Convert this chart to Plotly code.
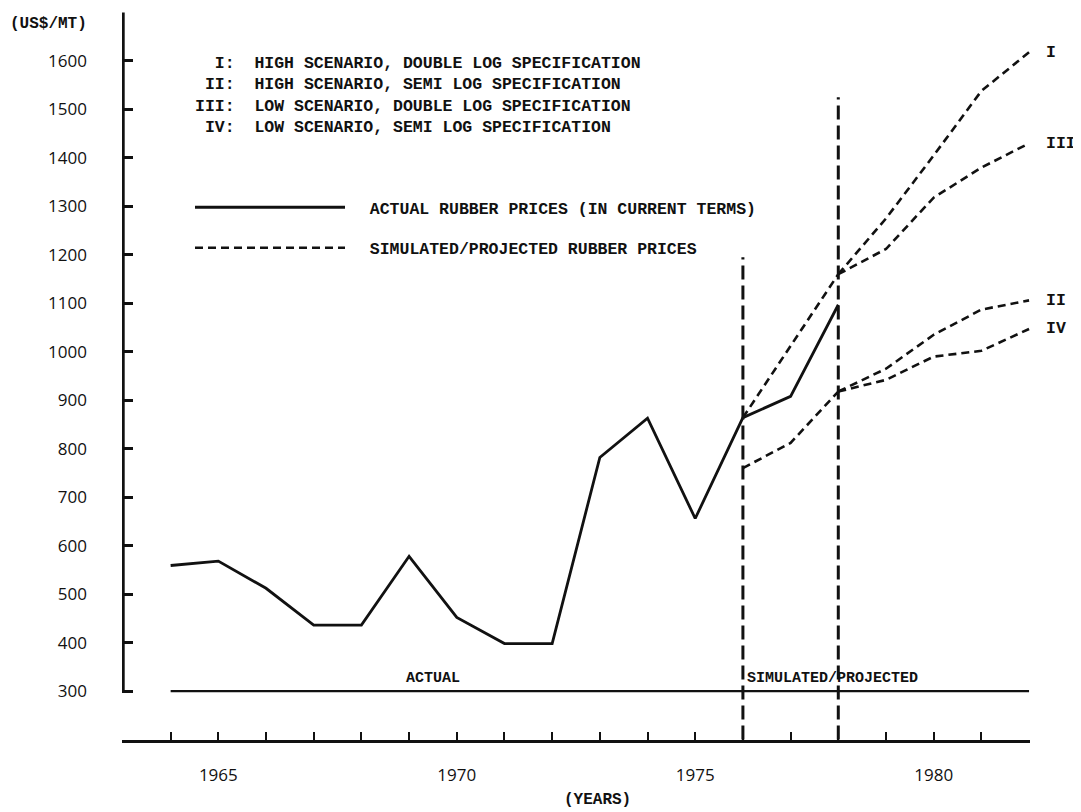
import plotly.graph_objects as go

# ---------------- data ----------------
actual_years = [1964, 1965, 1966, 1967, 1968, 1969, 1970, 1971, 1972, 1973, 1974, 1975, 1976, 1977, 1978]
actual_prices = [559, 568, 512, 436, 436, 578, 452, 398, 398, 782, 863, 656, 864, 908, 1097]

sim_years = [1976, 1977, 1978]
sim_high = [864, 1012, 1160]     # simulated, double log (I / III)
sim_semi = [760, 812, 918]       # simulated, semi log (II / IV)

proj_years = [1978, 1979, 1980, 1981, 1982]
proj_I = [1160, 1275, 1405, 1538, 1618]
proj_III = [1160, 1212, 1318, 1380, 1430]
proj_II = [918, 965, 1035, 1087, 1106]
proj_IV = [918, 942, 990, 1002, 1047]

boundary_years = [1976, 1978]
boundary_tops = [1195, 1525]
boundary_base = 200

base_level = 300
base_span = [1964, 1982]

y_ticks = [300, 400, 500, 600, 700, 800, 900, 1000, 1100, 1200, 1300, 1400, 1500, 1600, 1700]
y_ticktext = [str(v) for v in y_ticks[:-1]] + [""]
x_ticks = list(range(1963, 1983))
x_ticktext = [str(v) if v in (1965, 1970, 1975, 1980) else "" for v in x_ticks]

scenario_lines = [
    "\u00a0\u00a0I:\u00a0\u00a0HIGH SCENARIO, DOUBLE LOG SPECIFICATION",
    "\u00a0II:\u00a0\u00a0HIGH SCENARIO, SEMI LOG SPECIFICATION",
    "III:\u00a0\u00a0LOW SCENARIO, DOUBLE LOG SPECIFICATION",
    "\u00a0IV:\u00a0\u00a0LOW SCENARIO, SEMI LOG SPECIFICATION",
]
legend_names = [
    "\u00a0\u00a0ACTUAL RUBBER PRICES (IN CURRENT TERMS)",
    "\u00a0\u00a0SIMULATED/PROJECTED RUBBER PRICES",
]

MONO = "Liberation Mono"
SANS = "Open Sans"
INK = "#111111"

# page offset (browser body margin) compensation
OFF = 8
W, H = 1081 - OFF, 812 - OFF
PL, PR, PT, PB = 122, 1030, 12, 740   # plot area in page pixels


def px(xp):
    return (xp - PL) / (PR - PL)


def py(yp):
    return 1 - (yp - PT) / (PB - PT)


fig = go.Figure()

fig.add_trace(go.Scatter(
    x=actual_years, y=actual_prices, mode="lines",
    line=dict(color=INK, width=2.8),
    name=legend_names[0], legendgroup="a",
))

dash_proj = "8px,5px"
fig.add_trace(go.Scatter(
    x=sim_years, y=sim_high, mode="lines",
    line=dict(color=INK, width=2.6, dash=dash_proj),
    name=legend_names[1], legendgroup="b",
))
fig.add_trace(go.Scatter(
    x=sim_years, y=sim_semi, mode="lines",
    line=dict(color=INK, width=2.6, dash=dash_proj), showlegend=False,
))
for series in (proj_I, proj_III, proj_II, proj_IV):
    fig.add_trace(go.Scatter(
        x=proj_years, y=series, mode="lines",
        line=dict(color=INK, width=2.6, dash=dash_proj), showlegend=False,
    ))

for bx, top in zip(boundary_years, boundary_tops):
    fig.add_trace(go.Scatter(
        x=[bx, bx], y=[boundary_base, top], mode="lines",
        line=dict(color=INK, width=3, dash="14px,6px"), showlegend=False,
    ))

fig.add_trace(go.Scatter(
    x=base_span, y=[base_level, base_level], mode="lines",
    line=dict(color=INK, width=2.2), showlegend=False,
))

fig.add_shape(type="line", xref="x", yref="y", x0=1963, x1=1963,
              y0=y_ticks[0], y1=y_ticks[-1], line=dict(color=INK, width=3.5))

for lab, series in (("I", proj_I), ("III", proj_III), ("II", proj_II), ("IV", proj_IV)):
    fig.add_annotation(x=proj_years[-1], y=series[-1], text=lab, showarrow=False,
                       xanchor="left", yanchor="middle", xshift=15,
                       font=dict(family=MONO, size=16.5, color=INK, weight="bold"))

fig.add_annotation(x=1969.5, y=base_level, text="ACTUAL", showarrow=False,
                   xanchor="center", yanchor="bottom", yshift=2,
                   font=dict(family=MONO, size=15, color=INK, weight="bold"))
fig.add_annotation(x=boundary_years[0], y=base_level, text="SIMULATED/PROJECTED", showarrow=False,
                   xanchor="left", yanchor="bottom", yshift=2, xshift=2,
                   font=dict(family=MONO, size=15, color=INK, weight="bold"))

fig.add_annotation(xref="paper", yref="paper", x=px(193), y=py(52),
                   text="<br>".join(scenario_lines), showarrow=False,
                   xanchor="left", yanchor="top", align="left",
                   font=dict(family=MONO, size=16.5, color=INK, weight="bold"))

fig.add_annotation(xref="paper", yref="paper", x=px(8), y=py(24),
                   text="(US$/MT)", showarrow=False, xanchor="left", yanchor="middle",
                   font=dict(family=MONO, size=16, color=INK, weight="bold"))
fig.add_annotation(xref="paper", yref="paper", x=px(597), y=py(800),
                   text="(YEARS)", showarrow=False, xanchor="center", yanchor="middle",
                   font=dict(family=MONO, size=16, color=INK, weight="bold"))

fig.update_layout(
    width=W, height=H,
    margin=dict(l=PL - OFF, r=W - (PR - OFF), t=PT - OFF, b=H - (PB - OFF)),
    paper_bgcolor="white", plot_bgcolor="white",
    showlegend=True,
    legend=dict(
        x=px(190), y=py(190), xanchor="left", yanchor="top",
        itemwidth=150, tracegroupgap=16, traceorder="grouped",
        font=dict(family=MONO, size=16.5, color=INK, weight="bold"),
        bgcolor="rgba(0,0,0,0)",
    ),
    xaxis=dict(
        range=[1962.98, 1982.02], showgrid=False, zeroline=False,
        showline=True, linecolor=INK, linewidth=2.5,
        tickmode="array", tickvals=x_ticks, ticktext=x_ticktext,
        ticks="inside", ticklen=8, tickwidth=2, tickcolor=INK,
        tickfont=dict(family=SANS, size=17, color=INK), ticklabelstandoff=18,
    ),
    yaxis=dict(
        range=[199, 1701], showgrid=False, zeroline=False, showline=False,
        tickmode="array", tickvals=y_ticks, ticktext=y_ticktext,
        ticks="inside", ticklen=11, tickwidth=2.5, tickcolor=INK,
        tickfont=dict(family=SANS, size=17, color=INK), ticklabelstandoff=34,
    ),
)

fig.write_html("out.html")
